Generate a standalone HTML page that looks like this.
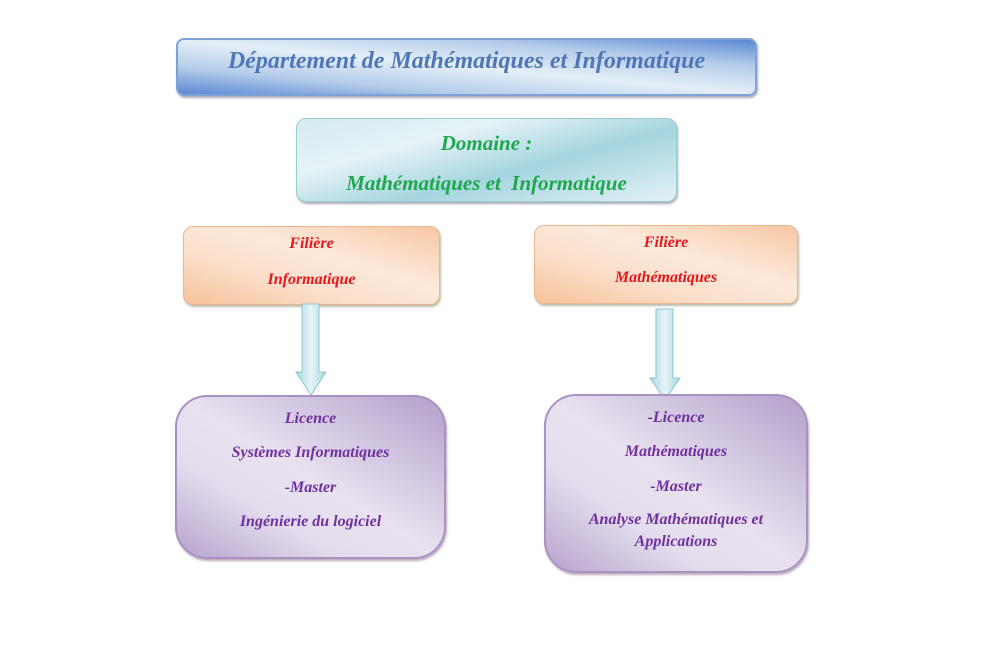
<!DOCTYPE html>
<html><head><meta charset="utf-8"><style>
body{margin:0;width:992px;height:655px;background:#fff;position:relative;overflow:hidden;font-family:"Liberation Serif",serif;font-style:italic;font-weight:bold}
.b{position:absolute;box-sizing:border-box}
.t{position:absolute;left:0;right:0;text-align:center;white-space:nowrap}
</style></head><body>
<div class="b" style="left:176px;top:38px;width:581px;height:58px;border-radius:8px;border:2px solid #7fa2d6;background:linear-gradient(to top right,#5b88d2 0%,#b5cdea 25%,#e4eff7 50%,#b5cdea 75%,#5b88d2 100%);box-shadow:1px 2px 2px #aab">
<div class="t" style="top:8px;font-size:24px;color:#4e76b8">Département de Mathématiques et Informatique</div></div>
<div class="b" style="left:296px;top:118px;width:381px;height:84px;border-radius:10px;border:1px solid #9cc;background:linear-gradient(165deg,#d4ebf2 0%,#e6f3f7 30%,#a5d5e0 60%,#e3f1f6 100%);box-shadow:1px 2px 2px #aab;overflow:hidden">
<div class="t" style="top:12px;font-size:21px;color:#1fa84d">Domaine :</div>
<div class="t" style="top:52px;font-size:21px;color:#1fa84d">Mathématiques et&nbsp; Informatique</div></div>
<div class="b" style="left:183px;top:226px;width:257px;height:79px;border-radius:10px;border:1px solid #e9b690;background:linear-gradient(to top right,#f6c29a 0%,#fbe0cc 35%,#fde9db 60%,#f7c7a3 100%);box-shadow:1px 2px 2px #bba">
<div class="t" style="top:8px;font-size:16px;color:#e8161b">Filière</div>
<div class="t" style="top:44px;font-size:16px;color:#e8161b">Informatique</div></div>
<div class="b" style="left:534px;top:225px;width:264px;height:79px;border-radius:10px;border:1px solid #e9b690;background:linear-gradient(to top right,#f6c29a 0%,#fbe0cc 35%,#fde9db 60%,#f7c7a3 100%);box-shadow:1px 2px 2px #bba">
<div class="t" style="top:8px;font-size:16px;color:#e8161b">Filière</div>
<div class="t" style="top:43px;font-size:16px;color:#e8161b">Mathématiques</div></div>
<svg class="b" style="left:0;top:0" width="992" height="655">
<defs><linearGradient id="a" x1="0" x2="1"><stop offset="0" stop-color="#a8d7e0"/><stop offset=".5" stop-color="#e6f4f7"/><stop offset="1" stop-color="#a8d7e0"/></linearGradient></defs>
<path d="M302 304H319V372H326L311 395L296 372H302Z" fill="url(#a)" stroke="#8cc6d2"/>
<path d="M656 309H673V378H680L665 400L650 378H656Z" fill="url(#a)" stroke="#8cc6d2"/>
</svg>
<div class="b" style="left:175px;top:395px;width:271px;height:164px;border-radius:32px;border:2px solid #a892c2;background:linear-gradient(to top right,#b7a3cd 0%,#e2dced 30%,#e8e2ef 50%,#d3c8e2 70%,#b3a0cb 100%);box-shadow:1px 2px 2px #bab">
<div class="t" style="top:13px;font-size:16px;color:#7030a0">Licence</div>
<div class="t" style="top:47px;font-size:16px;color:#7030a0">Systèmes Informatiques</div>
<div class="t" style="top:82px;font-size:16px;color:#7030a0">-Master</div>
<div class="t" style="top:116px;font-size:16px;color:#7030a0">Ingénierie du logiciel</div></div>
<div class="b" style="left:544px;top:394px;width:264px;height:179px;border-radius:32px;border:2px solid #a892c2;background:linear-gradient(to top right,#b7a3cd 0%,#e2dced 30%,#e8e2ef 50%,#d3c8e2 70%,#b3a0cb 100%);box-shadow:1px 2px 2px #bab">
<div class="t" style="top:13px;font-size:16px;color:#7030a0">-Licence</div>
<div class="t" style="top:47px;font-size:16px;color:#7030a0">Mathématiques</div>
<div class="t" style="top:82px;font-size:16px;color:#7030a0">-Master</div>
<div class="t" style="top:115px;font-size:16px;color:#7030a0">Analyse Mathématiques et</div>
<div class="t" style="top:137px;font-size:16px;color:#7030a0">Applications</div></div>
</body></html>
